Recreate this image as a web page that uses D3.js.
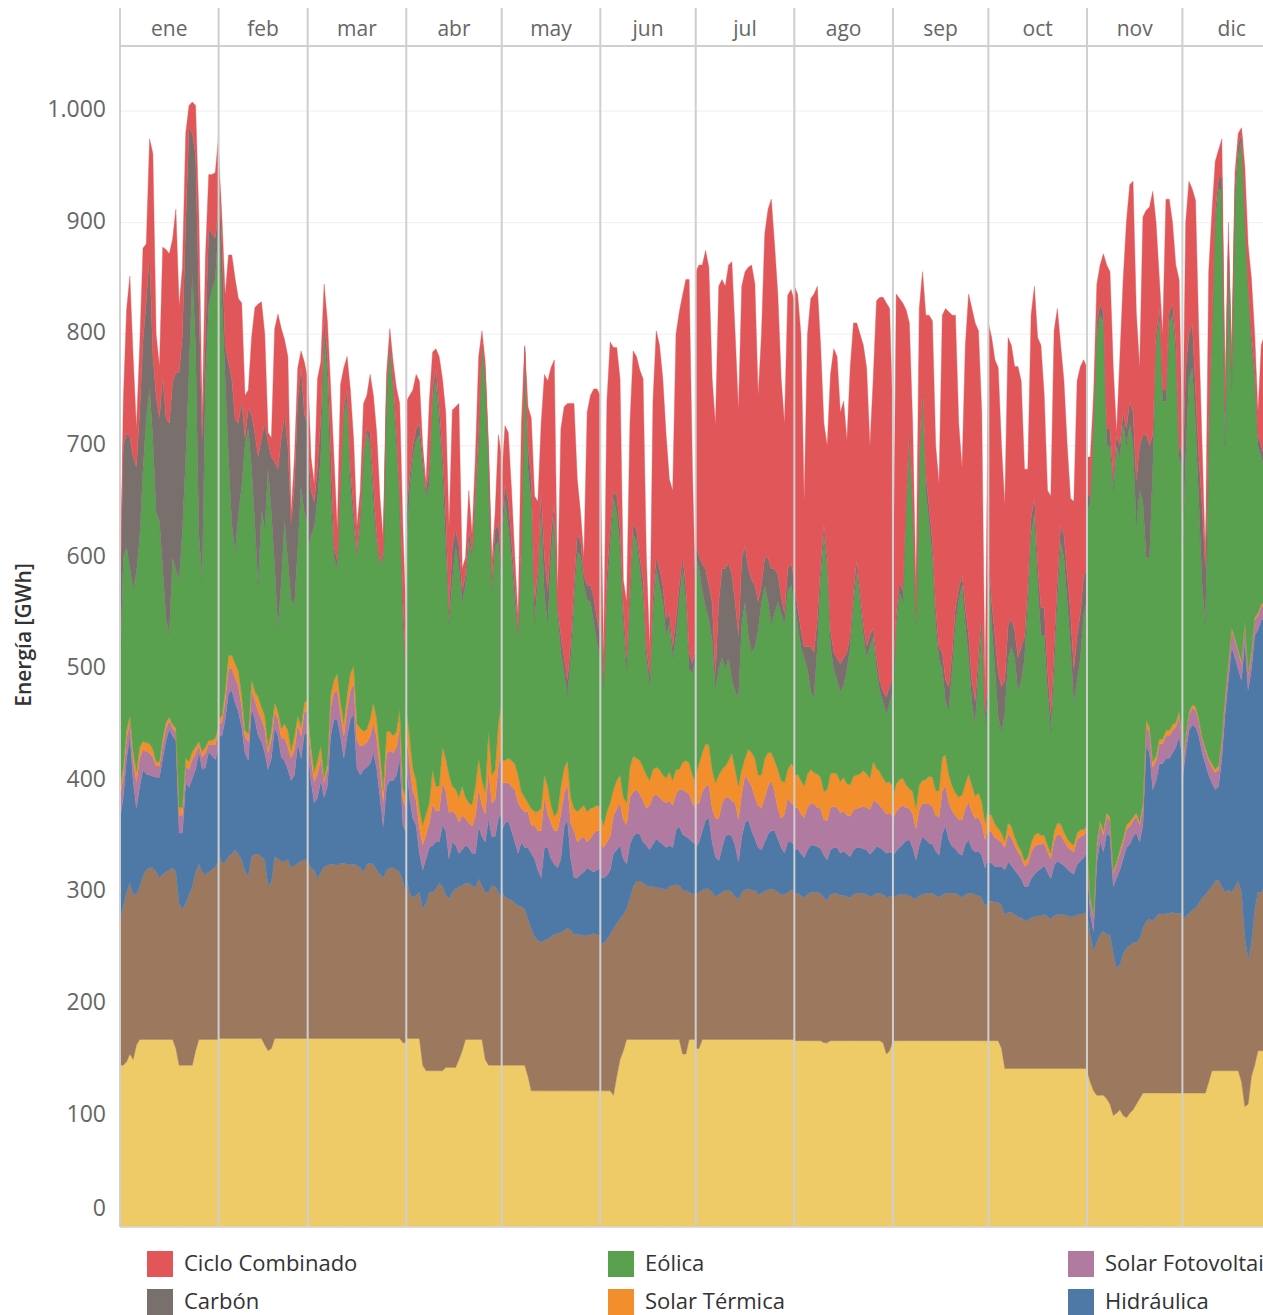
<!DOCTYPE html>
<html><head><meta charset="utf-8">
<script src="https://cdn.jsdelivr.net/npm/d3@7"></script>
<style>
body{margin:0;background:#fff;}
svg text{font-family:"Open Sans",Lato,Roboto,sans-serif;}
</style>
</head><body>
<svg id="chart" width="1263" height="1315"></svg>
<script>
const months = ["ene","feb","mar","abr","may","jun","jul","ago","sep","oct","nov","dic"];
const monthDays = [31,28,31,30,31,30,31,31,30,31,30,31];
const yTicks = [0,100,200,300,400,500,600,700,800,900,1000];
const tickLabels = ["0","100","200","300","400","500","600","700","800","900","1.000"];

// Stack order bottom -> top
const seriesNames = ["Nuclear","Cogeneración y residuos","Hidráulica","Solar Fotovoltaica","Solar Térmica","Eólica","Carbón","Ciclo Combinado"];
const seriesColors = ["#eecb66","#9c785f","#4e79a7","#b07aa1","#f28e2b","#59a14f","#79706e","#e15759"];

// Legend as shown (3 columns)
const legendNames = ["Ciclo Combinado","Carbón","Eólica","Solar Térmica","Solar Fotovoltaica","Hidráulica"];
const legendColors = ["#e15759","#79706e","#59a14f","#f28e2b","#b07aa1","#4e79a7"];

// Daily energy, GWh (2019), one array per month
const nuclear = [
[145,145,148,155,150,163,168,168,168,168,168,168,168,168,168,168,168,160,145,145,145,145,145,158,168,168,168,168,168,168,168],
[169,169,169,169,169,169,169,169,169,169,169,169,169,169,163,158,160,169,169,169,169,169,169,169,169,169,169,169],
[169,169,169,169,169,169,169,169,169,169,169,169,169,169,169,169,169,169,169,169,169,169,169,169,169,169,169,169,169,165,165],
[169,169,169,169,169,145,140,140,140,140,140,140,143,143,143,143,150,158,168,168,168,168,168,168,150,145,145,145,145,145],
[145,145,145,145,145,145,145,145,135,122,122,122,122,122,122,122,122,122,122,122,122,122,122,122,122,122,122,122,122,122,122],
[122,122,122,122,118,135,150,158,168,168,168,168,168,168,168,168,168,168,168,168,168,168,168,168,168,155,155,168,168,168],
[160,160,168,168,168,168,168,168,168,168,168,168,168,168,168,168,168,168,168,168,168,168,168,168,168,168,168,168,168,168,168],
[167,167,167,167,167,167,167,167,167,165,165,167,167,167,167,167,167,167,167,167,167,167,167,167,167,167,167,165,155,158,167],
[167,167,167,167,167,167,167,167,167,167,167,167,167,167,167,167,167,167,167,167,167,167,167,167,167,167,167,167,167,167],
[167,167,167,167,160,142,142,142,142,142,142,142,142,142,142,142,142,142,142,142,142,142,142,142,142,142,142,142,142,142,142],
[140,130,122,118,118,118,115,110,100,102,105,100,98,102,105,110,115,120,120,120,120,120,120,120,120,120,120,120,120,120],
[120,120,120,120,120,120,120,120,130,140,140,140,140,140,140,140,140,140,130,108,110,135,145,158,158,158,158,158,158,158,158]
];
const cogeneracion = [
[129,143,152,153,148,135,137,147,152,154,154,150,145,148,150,152,154,158,145,140,145,153,160,160,157,150,148,150,152,155,159],
[165,158,158,163,165,169,165,160,150,145,163,165,165,163,166,148,149,163,161,159,159,160,153,155,157,159,160,160],
[158,153,151,143,149,154,155,156,156,155,157,157,156,156,156,155,153,149,156,157,156,151,147,144,151,153,153,151,149,145,129],
[144,131,126,128,131,140,150,160,160,163,168,165,155,151,157,160,155,148,140,140,138,136,144,138,150,155,161,160,155,149],
[155,151,149,148,145,143,142,140,141,146,138,135,133,135,136,138,140,141,142,144,146,144,140,140,140,139,139,140,141,140,139],
[133,132,136,140,150,137,126,122,117,127,137,142,142,140,138,137,137,136,136,135,134,137,138,139,138,147,147,132,130,132],
[138,140,134,135,135,132,128,130,132,134,134,132,128,126,132,134,135,134,134,130,131,133,134,135,134,132,130,130,132,134,133],
[131,132,130,128,131,133,133,133,132,130,128,131,132,132,130,130,129,128,131,132,132,132,131,129,130,132,132,133,140,138,130],
[128,130,131,131,131,130,128,127,130,131,132,132,132,130,128,131,132,132,132,132,130,128,131,132,132,131,130,128,120,125],
[125,125,124,124,128,138,140,140,138,136,135,133,133,135,136,137,137,138,136,134,137,138,138,138,137,136,136,138,138,139,140],
[141,132,126,137,144,147,147,152,145,130,130,145,152,150,150,145,143,148,154,156,154,158,161,160,161,161,162,161,161,161],
[155,158,161,164,166,170,175,178,172,165,170,171,165,160,162,160,165,170,170,152,130,120,140,142,142,147,147,145,142,145,145]
];
const hidraulica = [
[92,97,120,132,102,77,90,95,86,83,82,85,90,104,118,126,118,118,63,68,108,96,97,92,101,92,96,108,102,96,104],
[106,113,128,146,147,132,128,119,106,104,133,121,106,103,96,104,111,116,110,93,90,81,78,81,108,92,113,113],
[104,78,60,73,82,62,71,115,130,131,114,94,115,130,135,87,83,92,87,89,100,91,69,46,75,78,78,85,102,50,59],
[105,85,71,63,35,35,40,40,42,42,37,55,57,36,45,39,30,32,34,32,29,31,47,44,45,66,44,45,66,78],
[55,66,70,62,55,47,58,55,64,67,70,63,58,83,82,70,63,59,66,93,97,64,51,51,54,57,61,58,55,58,61],
[58,59,57,58,67,66,66,50,40,48,45,43,42,37,36,33,38,44,41,40,38,37,34,49,53,50,48,48,47,43],
[42,45,53,62,63,45,36,30,40,48,50,50,46,33,50,60,62,53,46,42,39,44,50,52,53,48,42,37,45,43,41],
[40,40,38,36,40,42,42,41,40,38,36,40,41,41,38,40,38,37,40,41,41,40,40,38,40,42,41,40,40,40,38],
[38,40,42,45,48,50,45,35,45,52,48,45,44,40,38,55,60,48,42,40,38,38,45,48,40,38,40,38,35,40],
[35,34,32,32,35,40,45,42,40,38,35,30,30,35,38,40,42,44,40,36,45,48,46,44,42,40,38,45,48,50,55],
[46,18,17,72,84,71,91,88,60,81,85,85,90,91,95,98,87,92,157,149,118,122,134,135,139,139,143,149,159,139],
[125,147,164,166,162,150,130,117,103,93,82,84,115,160,188,220,205,190,190,266,241,245,245,235,244,240,235,230,225,230,230]
];
const solarFV = [
[19,19,18,13,18,24,25,18,20,20,17,10,10,13,11,8,7,8,16,16,15,16,17,14,6,11,13,7,10,13,13],
[10,12,17,22,20,22,23,18,14,17,17,17,22,20,21,15,17,14,15,17,20,20,20,23,16,20,20,20],
[21,20,19,21,20,13,15,25,24,26,20,20,24,26,27,25,26,22,22,25,27,27,25,22,29,27,25,25,27,22,22],
[25,30,25,22,22,22,22,22,37,28,28,38,36,41,28,28,28,31,24,22,24,33,34,28,25,43,30,33,47,54],
[43,36,34,40,47,45,30,32,32,25,30,35,42,45,30,32,30,33,40,30,32,32,42,32,32,32,23,28,35,35,33],
[30,27,30,30,34,37,38,35,35,42,40,39,36,37,33,40,43,40,40,39,40,40,38,32,33,40,40,40,35,32],
[39,35,35,30,30,30,34,38,40,35,33,32,38,38,38,43,35,40,37,38,37,40,43,45,35,27,26,35,40,35,36],
[38,37,35,36,38,38,37,35,36,32,35,38,37,36,36,36,35,36,36,35,36,38,38,40,45,40,38,36,35,35,33],
[33,35,36,35,30,28,30,28,32,30,32,35,34,32,34,38,36,33,32,30,30,32,32,34,33,30,30,28,25,28],
[28,28,26,24,22,20,25,25,22,20,20,18,20,24,25,24,22,20,18,18,22,24,25,22,20,20,20,22,22,20,18],
[15,12,12,14,15,15,15,14,12,12,15,15,16,16,14,15,15,16,18,18,20,18,18,18,20,20,20,18,18,16],
[12,14,14,15,15,13,12,12,13,14,15,15,15,14,14,15,15,15,15,15,14,14,14,13,12,13,13,12,12,13,13]
];
const solarTermica = [
[7,8,7,5,8,9,10,7,8,8,7,4,4,5,5,3,3,3,7,7,7,7,7,6,3,5,5,3,4,6,5],
[5,6,8,12,11,13,13,11,6,7,8,8,13,11,12,5,8,8,7,9,13,15,7,12,8,8,8,10],
[12,10,9,12,11,4,5,12,11,15,10,11,13,15,16,15,16,12,12,15,18,17,15,11,20,17,15,14,17,10,10],
[21,25,20,18,18,18,18,18,31,22,22,32,29,34,22,22,22,26,19,18,19,27,27,22,20,36,25,27,38,44],
[20,20,22,23,23,25,15,13,8,15,12,17,20,20,25,16,13,17,25,22,21,23,20,27,27,28,27,27,23,23,21],
[25,20,27,30,23,25,25,20,20,27,32,28,30,30,30,22,24,24,25,23,22,26,22,22,18,24,28,28,25,23],
[26,35,35,38,36,35,32,39,30,28,33,43,30,30,22,15,28,30,35,27,30,35,30,25,28,35,34,28,25,35,34],
[28,30,30,28,30,30,28,30,28,25,28,30,30,30,28,30,28,28,30,30,30,32,30,28,35,30,30,28,28,28,26],
[20,25,25,24,20,18,20,18,22,20,22,25,26,22,24,30,28,25,22,20,20,22,22,25,24,20,22,20,15,18],
[15,15,12,10,8,6,10,10,8,6,5,5,6,8,10,10,8,7,6,5,8,10,10,8,7,6,6,6,6,5,4],
[4,3,2,3,3,4,3,3,2,2,3,3,4,4,3,3,3,4,5,5,5,4,4,4,5,5,5,4,4,3],
[2,2,2,3,3,2,2,2,2,3,3,3,3,2,2,2,2,2,2,2,2,2,2,2,2,2,2,2,2,2,2]
];
const eolica = [
[103,188,165,132,146,179,189,244,291,319,278,223,216,152,93,75,150,142,204,249,270,349,428,360,185,156,330,390,404,412,451],
[474,372,280,178,118,100,141,187,255,274,190,150,100,177,168,250,195,122,74,132,183,151,135,118,151,216,170,158],
[143,190,219,235,261,398,345,183,110,94,196,279,263,169,127,150,183,246,266,245,178,159,169,208,301,346,310,256,186,148,100],
[137,220,279,305,335,320,285,285,330,365,325,250,190,135,185,218,205,165,190,235,222,255,280,390,370,234,165,200,163,105],
[196,235,207,183,145,124,210,399,299,275,170,208,265,160,147,222,272,177,121,85,59,124,187,233,226,197,190,185,166,145,133],
[192,123,196,230,261,240,205,155,120,148,199,195,172,153,105,85,140,178,165,155,128,132,110,120,150,174,142,84,91,112],
[196,175,145,122,113,115,85,95,100,87,92,65,70,80,130,140,102,90,100,130,155,155,135,115,132,150,150,142,160,160,148],
[158,134,120,115,94,70,68,114,177,230,198,114,93,84,81,82,103,124,156,183,154,121,104,118,112,89,72,68,62,71,86],
[91,143,167,158,244,312,250,165,284,345,259,226,197,149,118,79,47,59,105,151,177,188,143,104,74,65,111,159,89,102],
[224,171,139,100,91,114,147,161,160,138,153,181,229,276,289,222,179,179,138,109,146,198,253,246,212,176,128,137,154,193,201],
[294,355,441,456,453,455,329,333,341,373,352,372,340,357,333,258,297,270,146,152,263,368,378,303,295,365,367,328,228,241],
[186,249,299,302,254,195,137,111,280,385,490,517,492,224,364,213,393,443,468,357,343,274,214,150,132,120,135,133,131,142,152]
];
const carbon = [
[63,100,101,118,118,94,111,115,105,120,74,105,92,172,180,188,157,177,186,175,210,219,126,170,210,125,40,69,50,36,13],
[21,50,30,85,130,119,81,77,7,17,48,81,115,64,94,23,50,94,143,128,94,103,68,107,132,107,88,90],
[98,40,23,27,33,15,20,40,10,7,4,5,10,15,12,4,10,5,3,12,17,6,1,5,5,5,8,12,10,20,5],
[39,12,10,10,10,10,5,15,10,10,15,15,30,10,30,15,20,10,10,10,5,10,15,5,5,11,10,15,16,15],
[14,12,23,14,15,6,15,4,21,20,18,10,20,35,28,20,10,6,14,14,13,16,13,15,14,10,13,15,23,22,21],
[20,7,17,15,7,15,15,15,10,15,9,10,10,15,10,10,15,10,15,15,15,10,10,15,15,10,15,15,9,10],
[13,11,24,35,30,35,12,60,80,90,85,95,80,55,60,50,60,65,55,25,15,25,40,50,40,25,15,10,20,20,20],
[15,15,15,10,20,40,40,25,15,10,10,15,15,20,25,25,15,10,10,10,10,10,10,10,8,10,10,10,15,15,10],
[10,10,10,10,10,10,10,10,10,10,15,15,15,15,10,15,20,20,15,15,10,10,15,20,20,20,15,10,10,15],
[15,20,30,40,40,30,30,25,25,30,30,20,15,15,15,20,25,25,20,15,20,20,15,20,25,30,30,40,40,35,30],
[15,5,5,10,10,10,15,15,10,10,10,10,15,20,30,40,40,60,110,100,30,10,10,10,10,10,10,15,10,10],
[60,80,40,40,30,40,70,50,20,10,10,10,10,30,10,20,10,10,5,5,5,10,10,10,10,10,10,10,10,10,10]
];
const cicloCombinado = [
[2,40,111,144,90,35,60,83,51,103,182,55,46,116,151,152,128,146,59,60,80,20,28,45,75,18,70,48,53,59,65],
[12,25,45,96,111,126,112,87,38,17,69,113,137,122,80,9,17,119,139,98,67,81,10,25,29,14,47,40],
[66,30,16,80,50,30,32,52,80,28,85,35,30,70,63,23,20,43,30,52,80,92,58,11,15,10,17,40,78,65,50],
[100,73,50,49,38,10,6,60,34,17,45,65,90,77,122,110,128,20,15,35,15,30,65,8,10,10,15,15,80,100],
[42,53,62,45,25,10,105,2,35,55,95,60,60,164,188,150,127,10,185,225,248,213,163,50,25,15,155,170,186,206,215],
[110,20,155,168,128,133,135,25,50,145,155,155,168,180,80,25,175,203,200,185,165,120,140,255,245,235,274,334,175,40],
[242,261,268,285,285,200,224,283,259,253,267,280,240,202,243,246,270,282,270,185,225,290,312,331,290,250,195,170,245,245,250],
[266,281,265,130,280,312,321,298,195,90,100,229,272,270,225,230,190,240,240,212,230,250,250,170,223,320,343,353,353,338,230],
[58,286,254,258,172,95,70,20,133,101,142,172,197,145,147,302,333,336,302,262,148,95,235,306,333,339,288,180,19,282],
[201,237,247,273,216,157,258,245,236,261,238,150,104,182,188,202,235,190,160,196,283,243,161,138,115,103,150,228,221,193,180],
[35,35,20,35,35,52,147,141,100,2,80,119,186,194,207,151,70,195,201,214,218,100,25,50,171,101,73,67,149,10],
[20,130,137,120,170,110,54,10,136,100,45,25,35,20,20,10,15,10,5,45,35,50,30,20,90,110,100,70,50,90,70]
];

const seriesData = [nuclear,cogeneracion,hidraulica,solarFV,solarTermica,eolica,carbon,cicloCombinado];
const keys = seriesNames;

// ---------- layout ----------
const svg = d3.select("#chart");
const plotLeft = 120, plotRight = 1263, plotBottom = 1227, headerTop = 8, headerBottom = 46;
const grid = "#cfcfcf";

const y = d3.scaleLinear().domain([0, 1000]).range([plotBottom, 111]);
const xTime = d3.scaleTime().domain([new Date(2019,0,1), new Date(2020,0,1)]).range([plotLeft, 1281]);

// one record per day, month by month
const records = [];
months.forEach((m, mi) => {
  for (let d = 0; d < monthDays[mi]; d++) {
    const r = {month: mi, day: d + 1};
    keys.forEach((k, ki) => { r[k] = seriesData[ki][mi][d]; });
    records.push(r);
  }
});
const stacked = d3.stack().keys(keys)(records);

// gridlines
svg.append("g").selectAll("line").data(yTicks.filter(v => v > 0)).join("line")
  .attr("x1", plotLeft).attr("x2", plotRight)
  .attr("y1", d => y(d)).attr("y2", d => y(d))
  .attr("stroke", "#efefef").attr("stroke-width", 1);

// areas per month panel
const gAreas = svg.append("g");
let offset = 0;
months.forEach((m, mi) => {
  const x0 = xTime(new Date(2019, mi, 1)), x1 = xTime(new Date(2019, mi + 1, 1));
  const xd = d3.scaleLinear().domain([1, monthDays[mi]]).range([x0, x1]);
  const n = monthDays[mi];
  stacked.forEach((layer, li) => {
    const pts = layer.slice(offset, offset + n);
    const area = d3.area()
      .x(d => xd(d.data.day))
      .y0(d => y(d[0])).y1(d => y(d[1]));
    gAreas.append("path").attr("d", area(pts))
      .attr("fill", seriesColors[li])
      .attr("stroke", seriesColors[li]).attr("stroke-width", 0.4);
  });
  offset += n;
});

// panel borders and header
const bounds = months.map((m, mi) => xTime(new Date(2019, mi, 1)));
svg.append("g").selectAll("line").data(bounds).join("line")
  .attr("x1", d => d).attr("x2", d => d)
  .attr("y1", headerTop).attr("y2", plotBottom)
  .attr("stroke", grid).attr("stroke-width", 2);
svg.append("line").attr("x1", plotLeft).attr("x2", plotRight)
  .attr("y1", headerBottom).attr("y2", headerBottom)
  .attr("stroke", grid).attr("stroke-width", 2);
svg.append("line").attr("x1", plotLeft).attr("x2", plotRight)
  .attr("y1", plotBottom).attr("y2", plotBottom)
  .attr("stroke", "#d4d4d4").attr("stroke-width", 1.5);

svg.append("g").selectAll("text").data(months).join("text")
  .attr("x", (d, i) => (xTime(new Date(2019, i, 1)) + xTime(new Date(2019, i + 1, 1))) / 2)
  .attr("y", 30)
  .attr("text-anchor", "middle").attr("dominant-baseline", "middle")
  .attr("font-size", 21).attr("fill", "#666")
  .text(d => d);

// y tick labels
svg.append("g").selectAll("text").data(yTicks).join("text")
  .attr("x", 106)
  .attr("y", d => Math.min(y(d), plotBottom - 17))
  .attr("text-anchor", "end").attr("dominant-baseline", "middle")
  .attr("font-size", 23).attr("fill", "#666")
  .text((d, i) => tickLabels[i]);

// y axis title
svg.append("text")
  .attr("transform", "translate(25,635) rotate(-90)")
  .attr("text-anchor", "middle").attr("dominant-baseline", "middle")
  .attr("font-size", 21).attr("font-weight", 600).attr("fill", "#333")
  .text("Energía [GWh]");

// legend (3 columns x 2 rows)
const legendCols = [147, 608, 1068];
const legendRows = [1264, 1302];
const lg = svg.append("g");
legendNames.forEach((name, i) => {
  const col = Math.floor(i / 2), row = i % 2;
  const gx = legendCols[col], gy = legendRows[row];
  lg.append("rect").attr("x", gx).attr("y", gy - 13).attr("width", 26).attr("height", 26)
    .attr("fill", legendColors[i]);
  lg.append("text").attr("x", gx + 37).attr("y", gy + 1)
    .attr("dominant-baseline", "middle").attr("font-size", 22).attr("fill", "#333")
    .text(name);
});
</script>
</body></html>
